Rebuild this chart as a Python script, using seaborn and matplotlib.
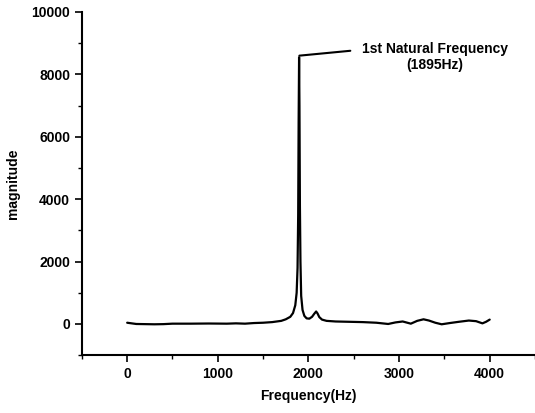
import numpy as np
import pandas as pd
import matplotlib
matplotlib.use("Agg")
import matplotlib.pyplot as plt
import seaborn as sns

freq = [0, 100, 200, 300, 400, 500, 700, 900, 1100, 1200, 1300, 1400, 1500,
        1600, 1700, 1750, 1800, 1830, 1855, 1870, 1880, 1887, 1892, 1897,
        1901, 1906, 1912, 1920, 1935, 1955, 1980, 2010, 2040, 2065, 2085,
        2100, 2120, 2150, 2200, 2300, 2450, 2600, 2750, 2880, 2960, 3040,
        3130, 3200, 3270, 3330, 3400, 3470, 3560, 3660, 3770, 3850, 3920,
        3960, 4000]
magnitude = [40, 0, -5, -10, -5, 10, 10, 15, 10, 20, 10, 30, 40,
             60, 100, 150, 230, 350, 600, 1000, 1800, 3500, 6500, 8550,
             7000, 3800, 2000, 900, 450, 260, 180, 170, 230, 330, 400,
             340, 220, 140, 100, 80, 70, 60, 40, 0, 50, 80,
             10, 100, 150, 110, 40, -10, 30, 70, 110, 90, 20,
             70, 140]

df = pd.DataFrame({"Frequency(Hz)": freq, "magnitude": magnitude})

sns.set_style("ticks", {"axes.edgecolor": "black", "text.color": "black",
                        "axes.labelcolor": "black", "xtick.color": "black",
                        "ytick.color": "black"})
plt.rcParams["font.family"] = ["Liberation Sans", "DejaVu Sans"]
plt.rcParams["font.weight"] = "bold"

fig = plt.figure(figsize=(5.35, 4.13), dpi=100)
ax = fig.add_axes([0.153, 0.14, 0.847, 0.831])

sns.lineplot(data=df, x="Frequency(Hz)", y="magnitude", color="black",
             linewidth=1.6, ax=ax)

ax.set_xlim(-500, 4500)
ax.set_ylim(-1000, 10000)
ax.set_xticks([0, 1000, 2000, 3000, 4000])
ax.set_yticks([0, 2000, 4000, 6000, 8000, 10000])
ax.set_xticks(np.arange(-500, 4501, 500), minor=True)
ax.set_yticks(np.arange(-1000, 10001, 1000), minor=True)
ax.tick_params(axis="both", which="major", labelsize=10, length=5,
               width=1.2, direction="out", colors="black")
ax.tick_params(axis="both", which="minor", length=3, width=1, colors="black")
for lab in ax.get_xticklabels() + ax.get_yticklabels():
    lab.set_fontweight("bold")

ax.set_xlabel("Frequency(Hz)", fontsize=10, fontweight="bold", labelpad=6,
              color="black")
ax.set_ylabel("magnitude", fontsize=10, fontweight="bold", labelpad=8,
              color="black")

sns.despine(ax=ax)
ax.spines["left"].set_linewidth(1.5)
ax.spines["bottom"].set_linewidth(1.5)

ax.annotate("1st Natural Frequency\n(1895Hz)", xy=(1900, 8600),
            xytext=(2590, 8550), fontsize=10, fontweight="bold",
            color="black", ha="left", va="center", multialignment="center",
            arrowprops=dict(arrowstyle="-", color="black", lw=1.5,
                            relpos=(0, 0.75), shrinkA=6, shrinkB=0))

fig.savefig("out.png", dpi=100)
